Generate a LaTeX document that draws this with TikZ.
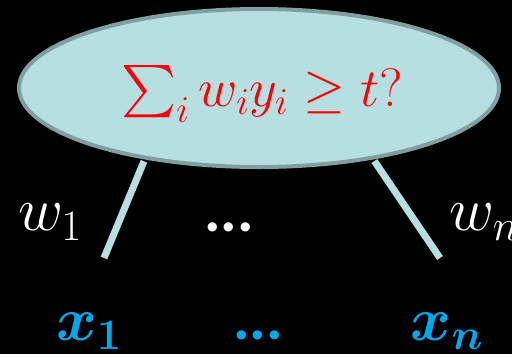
\RequirePackage{fix-cm}
\documentclass[tikz,border=0pt]{standalone}
\usepackage{amsmath,bm,graphicx}
\usepackage{fontspec}
\newfontfamily\dotsfont{Carlito}
\newcommand{\bigsum}{\mathop{\vcenter{\hbox{\scalebox{2.1}{$\sum$}}}}\nolimits}
\usetikzlibrary{shapes.geometric}
\definecolor{ovalfill}{HTML}{B7DFE2}
\definecolor{ovaldraw}{HTML}{7F9FA1}
\definecolor{inblue}{HTML}{00A8EC}
\tikzset{
  weight/.style={text=white, font=\fontsize{62}{70}\selectfont},
  input/.style={text=inblue, font=\fontsize{62}{70}\selectfont},
  dotrow/.style={font=\dotsfont\bfseries\fontsize{62}{70}\selectfont},
  edge/.style={draw=ovalfill, line width=7pt, shorten <=2pt}
}
\begin{document}
\begin{tikzpicture}[x=1pt, y=-1pt]
        \fill[black] (0,0) rectangle (512,354);
        \useasboundingbox (0,0) rectangle (512,354);
        \node[ellipse, fill=ovalfill, draw=ovaldraw, line width=4pt, minimum width=480pt, minimum height=158pt, inner sep=0pt] (sum) at (259,88) {};
        \node[text=red, font=\fontsize{54}{60}\selectfont] (rule) at (262,94) {$\bigsum_i w_i y_i \geq t?$};
        
        \coordinate (end1) at (104,258);
        \coordinate (endn) at (440,258);
        \draw[edge] (sum.212) -- (end1);
        \draw[edge] (sum.328) -- (endn);
        
        \node[weight] (w1) at (50,222) {$w_1$};
        \node[weight, dotrow] (wdots) at (229,227) {...};
        \node[weight] (wn) at (484,222) {$w_n$};
        
        \node[input] (x1) at (89,331) {$\bm{x}_{\bm{1}}$};
        \node[input, dotrow] (xdots) at (258,335) {...};
        \node[input] (xn) at (447,331) {$\bm{x}_{\bm{n}}$};
    \end{tikzpicture}
\end{document}
